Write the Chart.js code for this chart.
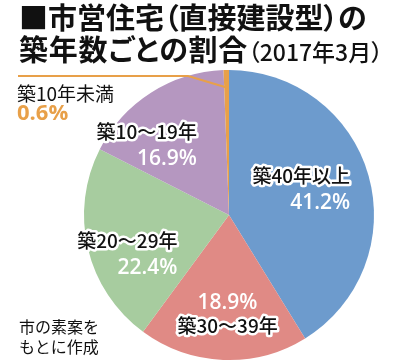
<!DOCTYPE html>
<html>
<head>
<meta charset="utf-8">
<script src="https://cdn.jsdelivr.net/npm/chart.js@4/dist/chart.umd.min.js"></script>
<style>
  body { margin: 0; background: #fff; }
  #wrap { position: relative; width: 400px; height: 361px; overflow: hidden; }
  #title { position: absolute; left: 19px; top: 0px; font-family: "Noto Sans CJK JP"; font-weight: 700; color: #111; white-space: nowrap; font-feature-settings: "palt"; }
  #title .l1 { font-size: 29px; line-height: 33px; letter-spacing: 0; }
  #title .l2 { font-size: 29px; line-height: 31px; letter-spacing: 0.8px; }
  #title .sub { font-size: 23px; font-weight: 500; letter-spacing: 0; }
  #note { position: absolute; left: 19px; top: 316px; font-family: "Noto Sans CJK JP"; font-size: 16px; line-height: 20px; color: #111; }
</style>
</head>
<body>
<div id="wrap">
  <canvas id="pie-chart"></canvas>
  <div id="title"><div class="l1">■市営住宅（直接建設型）の</div><div class="l2">築年数ごとの割合<span class="sub">（2017年3月）</span></div></div>
  <div id="note">市の素案を<br>もとに作成</div>
</div>
<script>
// data
const categories = ["築40年以上", "築30～39年", "築20～29年", "築10～19年", "築10年未満"];
const shares = [41.2, 18.9, 22.4, 16.9, 0.6];
const colors = ["#6d9bcd", "#e08a85", "#a7cc9f", "#b597c0", "#e8a049"];

// where the in-slice labels sit (fraction of radius, angle tweak in degrees)
const labelLayout = [
  { f: 0.53, da: -4, align: "right", pctFirst: false },
  { f: 0.68, da: -1.5, align: "center", pctFirst: true },
  { f: 0.75, da: -7.5, align: "right", pctFirst: false },
  { f: 0.745, da: -17, align: "right", pctFirst: false },
  null
];

const jp = '"Noto Sans CJK JP"';

const sliceLabels = {
  id: "sliceLabels",
  afterDatasetsDraw(chart) {
    const ctx = chart.ctx;
    const arcs = chart.getDatasetMeta(0).data;
    ctx.save();
    ctx.textBaseline = "middle";
    ctx.lineJoin = "round";
    arcs.forEach((arc, i) => {
      const lay = labelLayout[i];
      if (!lay) return;
      const mid = (arc.startAngle + arc.endAngle) / 2 + lay.da * Math.PI / 180;
      const ax = arc.x + Math.cos(mid) * arc.outerRadius * lay.f;
      const ay = arc.y + Math.sin(mid) * arc.outerRadius * lay.f;
      const nameFont = "500 19px " + jp;
      const pctFont = "600 21px 'Open Sans'";
      const pct = shares[i].toFixed(1) + "%";
      ctx.font = nameFont;
      const wName = ctx.measureText(categories[i]).width;
      ctx.font = pctFont;
      const wPct = ctx.measureText(pct).width;
      const w = Math.max(wName, wPct);
      let x = ax;
      if (lay.align === "right") x = ax + w / 2;
      ctx.textAlign = lay.align;
      const yName = lay.pctFirst ? ay + 12 : ay - 13;
      const yPct = lay.pctFirst ? ay - 11 : ay + 14;
      ctx.font = nameFont;
      ctx.strokeStyle = "#fff";
      ctx.lineWidth = 5;
      ctx.strokeText(categories[i], x, yName);
      ctx.fillStyle = "#111";
      ctx.fillText(categories[i], x, yName);
      ctx.font = pctFont;
      ctx.fillStyle = "#fff";
      ctx.fillText(pct, x, yPct);
    });

    // small slice: leader line + label outside
    const small = arcs[4];
    const m = (small.startAngle + small.endAngle) / 2;
    const ex = small.x + Math.cos(m) * small.outerRadius * 0.88;
    const ey = small.y + Math.sin(m) * small.outerRadius * 0.88;
    ctx.strokeStyle = colors[4];
    ctx.lineWidth = 2;
    ctx.beginPath();
    ctx.moveTo(18, 76);
    ctx.lineTo(188, 76);
    ctx.lineTo(ex, ey);
    ctx.stroke();
    ctx.textAlign = "left";
    ctx.font = "400 19px " + jp;
    ctx.fillStyle = "#111";
    ctx.fillText(categories[4], 17, 94);
    ctx.font = "700 22px 'Open Sans'";
    ctx.fillStyle = colors[4];
    ctx.fillText(shares[4].toFixed(1) + "%", 17, 114);
    ctx.restore();
  }
};

new Chart(document.getElementById("pie-chart"), {
  type: "pie",
  data: {
    labels: categories,
    datasets: [{
      data: shares,
      backgroundColor: colors,
      borderWidth: 0,
    }],
  },
  options: {
    responsive: true,
    maintainAspectRatio: false,
    animation: false,
    events: [],
    layout: { padding: { left: 84, right: 26, top: 70, bottom: 1 } },
    plugins: {
      legend: { display: false },
      tooltip: { enabled: false },
    },
  },
  plugins: [sliceLabels],
});
</script>
</body>
</html>
